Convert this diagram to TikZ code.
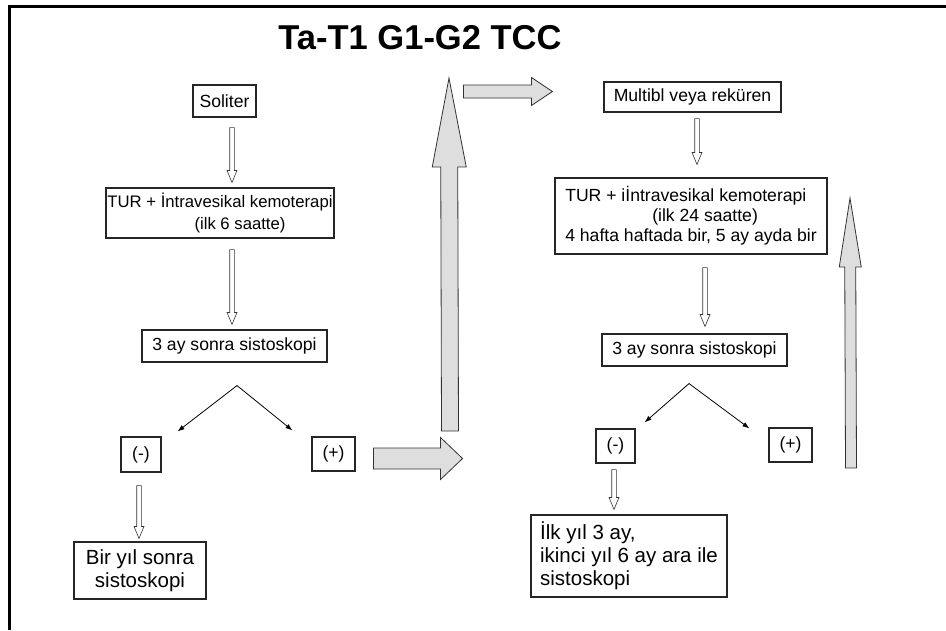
\documentclass[tikz,border=0pt]{standalone}
\usepackage{fontspec}
\setmainfont{Liberation Sans}
\usetikzlibrary{calc,arrows.meta}
% block arrow: #1 style, #2 start, #3 end, #4 half shaft width, #5 half head width, #6 head length
\newcommand\blkarrow[6]{%
  \coordinate (bkH) at ($(#3)!#6!(#2)$);
  \draw[#1] ($(#2)!#4!90:(#3)$) -- ($(bkH)!#4!90:(#3)$) -- ($(bkH)!#5!90:(#3)$) -- (#3)
    -- ($(bkH)!#5!-90:(#3)$) -- ($(bkH)!#4!-90:(#3)$) -- ($(#2)!#4!-90:(#3)$) -- cycle;
}
\tikzset{
  box/.style={draw=black!85, line width=1.1pt, inner sep=0pt, align=center,
              font=\fontsize{17.6}{20}\selectfont},
  bigtext/.style={font=\fontsize{20.5}{23}\selectfont},
  thinarr/.style={draw=black!80, line width=0.6pt, fill=white},
  bigarr/.style={draw=black!80, line width=0.8pt, fill=black!13},
  splitarr/.style={-{Latex[length=7pt,width=5pt]}, line width=0.8pt},
  frameline/.style={line width=3pt, draw=black},
}
\begin{document}
\begin{tikzpicture}[x=1pt,y=-1pt]
\useasboundingbox (0,0) rectangle (946,630);
\fill[white] (0,0) rectangle (946,630);
% frame
\coordinate (fTL) at (9,6);
\coordinate (fTR) at (946,6);
\coordinate (fBL) at (9,630);
\draw[frameline] (fTR) -- (fTL) -- (fBL);

% title
\node[font=\fontsize{34.5}{40}\selectfont\bfseries] (title) at (420,38) {Ta-T1 G1-G2 TCC};

% ---------------- left column ----------------
\node[box, minimum width=63, minimum height=32] (sol) at (224.5,101) {Soliter};
\node[box, minimum width=228, minimum height=50, font=\fontsize{16.7}{22}\selectfont] (turL) at (220,213)
  {TUR + İntravesikal kemoterapi\\\hspace*{40pt}(ilk 6 saatte)};
\node[box, minimum width=185, minimum height=32] (sisL) at (234.5,346) {3 ay sonra sistoskopi};
\node[box, minimum width=40, minimum height=35] (negL) at (141,454.5) {(-)};
\node[box, minimum width=43, minimum height=34] (posL) at (333.5,454) {(+)};
\node[box, bigtext, minimum width=132, minimum height=57] (birL) at (140,570.5) {Bir yıl sonra\\sistoskopi};

\coordinate (a1s) at ($(sol.south)+(7.5,10)$);
\coordinate (a1e) at ($(turL.north)+(12,-5)$);
\blkarrow{thinarr}{a1s}{a1e}{2.3pt}{5pt}{12pt}
\coordinate (a2s) at ($(turL.south)+(12,11)$);
\coordinate (a2e) at ($(sisL.north)+(-2.5,-5)$);
\blkarrow{thinarr}{a2s}{a2e}{2.3pt}{5pt}{12pt}
\coordinate (a3s) at ($(negL.south)+(-2,13)$);
\coordinate (a3e) at ($(birL.north)+(-1,-3)$);
\blkarrow{thinarr}{a3s}{a3e}{2.3pt}{5pt}{12pt}

\coordinate (apL) at ($(sisL.south)+(2.5,23)$);
\coordinate (tipLn) at ($(negL.north east)+(16,-5)$);
\coordinate (tipLp) at ($(posL.north west)+(-19,-6)$);
\draw[splitarr] (apL) -- (tipLn);
\draw[splitarr] (apL) -- (tipLp);

% big arrows
\coordinate (bhs) at ($(posL.east)+(18,4.5)$);
\coordinate (bhe) at ($(posL.east)+(107,4.5)$);
\blkarrow{bigarr}{bhs}{bhe}{10.5pt}{21pt}{22pt}
\coordinate (bvs) at (450,431);
\coordinate (bve) at (449,78);
\blkarrow{bigarr}{bvs}{bve}{8.5pt}{17pt}{89pt}

% ---------------- right column ----------------
\node[box, minimum width=177, minimum height=30] (mul) at (692.5,97) {Multibl veya reküren};
\node[box, minimum width=272, minimum height=76, align=left] (turR) at (691,216)
  {TUR + iİntravesikal kemoterapi\\\hspace*{87pt}(ilk 24 saatte)\\4 hafta haftada bir, 5 ay ayda bir};
\node[box, minimum width=185, minimum height=32] (sisR) at (694.5,350) {3 ay sonra sistoskopi};
\node[box, minimum width=39, minimum height=34] (negR) at (615.5,446) {(-)};
\node[box, minimum width=43, minimum height=34] (posR) at (790.5,445) {(+)};
\node[box, bigtext, minimum width=196, minimum height=82, align=left] (finR) at (629,556)
  {İlk yıl 3 ay,\\ikinci yıl 6 ay ara ile\\sistoskopi};

\coordinate (ths2) at ($(mul.west)+(-140,-5.5)$);
\coordinate (the2) at ($(mul.west)+(-51,-5.5)$);
\blkarrow{bigarr}{ths2}{the2}{6.5pt}{14pt}{21pt}

\coordinate (r1s) at ($(mul.south)+(4.5,6)$);
\coordinate (r1e) at ($(turR.north)+(6,-13)$);
\blkarrow{thinarr}{r1s}{r1e}{2.3pt}{5pt}{12pt}
\coordinate (r2s) at ($(turR.south)+(14,13)$);
\coordinate (r2e) at ($(sisR.north)+(10.5,-7)$);
\blkarrow{thinarr}{r2s}{r2e}{2.3pt}{5pt}{12pt}
\coordinate (r3s) at ($(negR.south)+(-1.5,6)$);
\coordinate (r3e) at ($(finR.north)+(-15,-5)$);
\blkarrow{thinarr}{r3s}{r3e}{2.3pt}{5pt}{12pt}

\coordinate (apR) at ($(sisR.south)+(-5.5,17)$);
\coordinate (tipRn) at ($(negR.north east)+(9,-6)$);
\coordinate (tipRp) at ($(posR.north west)+(-19,1)$);
\draw[splitarr] (apR) -- (tipRn);
\draw[splitarr] (apR) -- (tipRp);

\coordinate (rvs) at (851,468);
\coordinate (rve) at (850,198);
\blkarrow{bigarr}{rvs}{rve}{5.5pt}{11pt}{69pt}
\end{tikzpicture}
\end{document}
